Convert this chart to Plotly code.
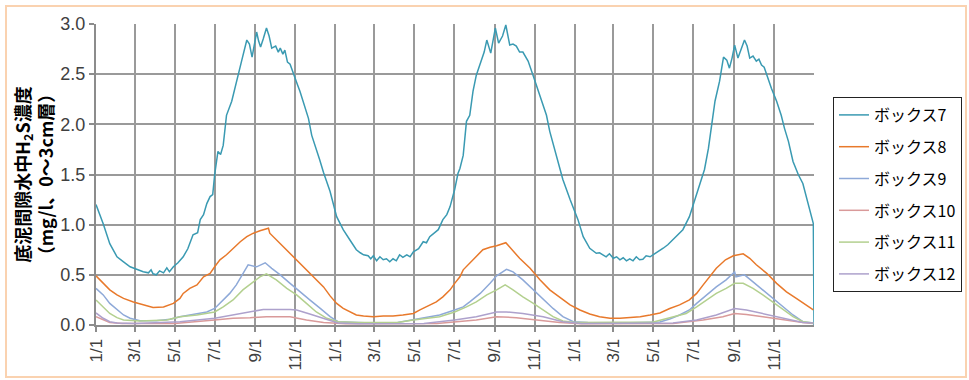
import pandas as pd
import plotly.graph_objects as go

START = pd.Timestamp("2009-01-01")

# ---- data (day offsets from the first 1/1, concentration mg/l) ----
box7_days = [0, 11, 21, 32, 42, 52, 62, 72, 80, 84,
             87, 92, 97, 103, 108, 112, 118, 125, 133, 140,
             148, 155, 159, 164, 169, 174, 178, 181, 186, 190,
             194, 199, 207, 215, 222, 230, 234, 238, 241, 245,
             248, 251, 255, 260, 264, 268, 274, 278, 281, 285,
             288, 292, 296, 303, 307, 311, 315, 319, 324, 329,
             336, 341, 347, 357, 367, 377, 387, 397, 403, 408,
             415, 419, 423, 428, 433, 438, 443, 448, 453, 458,
             463, 468, 474, 479, 484, 492, 499, 504, 509, 514,
             522, 529, 535, 540, 547, 552, 555, 560, 565, 570,
             575, 580, 588, 592, 596, 602, 609, 614, 620, 625,
             631, 636, 641, 646, 651, 655, 659, 667, 674, 682,
             687, 692, 700, 707, 712, 723, 735, 743, 753, 763,
             768, 773, 778, 783, 789, 794, 799, 804, 809, 814,
             819, 824, 829, 834, 839, 845, 850, 858, 865, 872,
             880, 888, 895, 905, 913, 921, 928, 934, 939, 944,
             951, 957, 962, 966, 970, 974, 979, 984, 989, 993,
             997, 1002, 1007, 1011, 1015, 1019, 1023, 1030, 1038, 1045,
             1050, 1056, 1063, 1071, 1078, 1086, 1094, 1095]
box7_vals = [1.20, 1.01, 0.81, 0.68, 0.63, 0.58, 0.555, 0.53, 0.52, 0.55,
             0.51, 0.50, 0.54, 0.52, 0.57, 0.53, 0.58, 0.62, 0.68, 0.76,
             0.90, 0.92, 1.05, 1.10, 1.21, 1.28, 1.30, 1.50, 1.73, 1.70,
             1.79, 2.09, 2.23, 2.46, 2.63, 2.84, 2.80, 2.67, 2.78, 2.92,
             2.83, 2.77, 2.85, 2.96, 2.88, 2.76, 2.78, 2.72, 2.76, 2.70,
             2.74, 2.62, 2.60, 2.46, 2.40, 2.33, 2.25, 2.16, 2.06, 1.89,
             1.76, 1.65, 1.52, 1.33, 1.08, 0.95, 0.85, 0.75, 0.72, 0.70,
             0.69, 0.66, 0.69, 0.64, 0.68, 0.65, 0.66, 0.63, 0.66, 0.64,
             0.70, 0.675, 0.70, 0.68, 0.73, 0.76, 0.83, 0.82, 0.88, 0.91,
             0.95, 1.05, 1.10, 1.18, 1.35, 1.51, 1.56, 1.69, 2.03, 2.09,
             2.33, 2.49, 2.66, 2.72, 2.84, 2.71, 2.96, 2.81, 2.88, 2.99,
             2.79, 2.80, 2.78, 2.72, 2.72, 2.68, 2.63, 2.48, 2.34, 2.19,
             2.09, 1.93, 1.73, 1.56, 1.45, 1.25, 1.05, 0.88, 0.765, 0.715,
             0.72, 0.70, 0.68, 0.71, 0.665, 0.68, 0.65, 0.67, 0.64, 0.66,
             0.64, 0.68, 0.65, 0.655, 0.69, 0.68, 0.70, 0.73, 0.765, 0.80,
             0.85, 0.90, 0.95, 1.08, 1.25, 1.41, 1.55, 1.76, 1.99, 2.23,
             2.43, 2.67, 2.64, 2.56, 2.66, 2.79, 2.66, 2.75, 2.84, 2.78,
             2.66, 2.68, 2.63, 2.65, 2.59, 2.57, 2.49, 2.36, 2.23, 2.09,
             1.96, 1.83, 1.63, 1.50, 1.41, 1.21, 1.01, 0.0]

box8_days = [0, 11, 21, 32, 42, 57, 72, 87, 103, 118,
             128, 133, 143, 154, 164, 174, 181, 189, 199, 209,
             220, 230, 240, 250, 263, 265, 275, 286, 296, 306,
             316, 326, 336, 347, 357, 367, 377, 387, 397, 408,
             423, 438, 453, 468, 484, 494, 509, 519, 529, 540,
             547, 555, 560, 570, 580, 590, 601, 611, 625, 634,
             646, 662, 677, 692, 707, 723, 738, 753, 768, 784,
             799, 814, 830, 845, 860, 875, 890, 905, 916, 926,
             936, 946, 960, 972, 987, 997, 1007, 1023, 1038, 1053,
             1068, 1083, 1094]
box8_vals = [0.49, 0.415, 0.35, 0.30, 0.265, 0.23, 0.20, 0.175, 0.18, 0.215,
             0.265, 0.315, 0.365, 0.40, 0.48, 0.515, 0.58, 0.65, 0.70, 0.765,
             0.83, 0.88, 0.915, 0.94, 0.965, 0.915, 0.85, 0.78, 0.715, 0.65,
             0.58, 0.515, 0.45, 0.38, 0.29, 0.215, 0.165, 0.13, 0.10, 0.09,
             0.083, 0.09, 0.09, 0.10, 0.115, 0.15, 0.20, 0.23, 0.28, 0.35,
             0.415, 0.48, 0.55, 0.615, 0.675, 0.75, 0.775, 0.79, 0.82, 0.75,
             0.665, 0.565, 0.45, 0.35, 0.28, 0.20, 0.15, 0.11, 0.083, 0.067,
             0.067, 0.073, 0.083, 0.10, 0.12, 0.165, 0.20, 0.25, 0.315, 0.40,
             0.48, 0.565, 0.65, 0.69, 0.71, 0.665, 0.60, 0.515, 0.415, 0.33,
             0.265, 0.20, 0.15]

box9_days = [0, 11, 21, 32, 42, 52, 67, 92, 113, 128,
             154, 169, 181, 194, 204, 214, 224, 232, 245, 258,
             268, 281, 296, 311, 326, 342, 357, 369, 390, 420,
             460, 499, 524, 547, 560, 570, 586, 601, 611, 626,
             636, 651, 667, 682, 697, 712, 728, 750, 800, 860,
             875, 890, 905, 916, 931, 946, 961, 974, 976, 989,
             1002, 1017, 1032, 1048, 1063, 1078, 1094]
box9_vals = [0.365, 0.30, 0.215, 0.15, 0.10, 0.067, 0.043, 0.043, 0.057, 0.083,
             0.11, 0.13, 0.165, 0.25, 0.315, 0.40, 0.515, 0.60, 0.58, 0.62,
             0.565, 0.50, 0.415, 0.33, 0.25, 0.165, 0.083, 0.033, 0.025, 0.02,
             0.025, 0.067, 0.10, 0.15, 0.18, 0.23, 0.315, 0.415, 0.49, 0.555,
             0.53, 0.45, 0.35, 0.25, 0.165, 0.083, 0.033, 0.025, 0.02, 0.03,
             0.06, 0.10, 0.15, 0.215, 0.30, 0.38, 0.45, 0.53, 0.48, 0.50,
             0.43, 0.35, 0.265, 0.18, 0.10, 0.033, 0.02]

box10_days = [0, 11, 21, 40, 120, 181, 209, 235, 260, 296,
              321, 347, 380, 520, 547, 580, 611, 641, 672, 707,
              740, 880, 926, 956, 974, 992, 1017, 1048, 1078, 1094]
box10_vals = [0.083, 0.05, 0.025, 0.015, 0.015, 0.05, 0.067, 0.073, 0.083, 0.083,
              0.05, 0.025, 0.012, 0.015, 0.033, 0.05, 0.083, 0.073, 0.05, 0.025,
              0.012, 0.015, 0.05, 0.083, 0.115, 0.105, 0.083, 0.05, 0.025, 0.015]

box11_days = [0, 11, 21, 32, 42, 67, 108, 128, 154, 181,
              194, 209, 224, 240, 250, 260, 275, 291, 306, 321,
              336, 352, 369, 400, 460, 484, 524, 547, 565, 580,
              596, 611, 624, 636, 651, 667, 682, 697, 712, 730,
              850, 900, 916, 931, 946, 961, 974, 987, 1002, 1017,
              1032, 1048, 1063, 1078, 1094]
box11_vals = [0.25, 0.18, 0.115, 0.073, 0.05, 0.04, 0.05, 0.083, 0.10, 0.13,
              0.18, 0.25, 0.35, 0.43, 0.48, 0.51, 0.45, 0.365, 0.30, 0.215,
              0.13, 0.067, 0.033, 0.025, 0.025, 0.05, 0.083, 0.13, 0.18, 0.23,
              0.30, 0.35, 0.40, 0.35, 0.28, 0.215, 0.15, 0.083, 0.04, 0.025,
              0.03, 0.115, 0.18, 0.25, 0.315, 0.365, 0.415, 0.415, 0.365, 0.30,
              0.23, 0.15, 0.083, 0.033, 0.02]

box12_days = [0, 11, 21, 32, 60, 128, 181, 209, 235, 255,
              296, 306, 326, 347, 369, 400, 500, 547, 580, 611,
              626, 651, 682, 712, 740, 880, 916, 946, 974, 992,
              1017, 1048, 1078, 1094]
box12_vals = [0.12, 0.067, 0.033, 0.02, 0.015, 0.033, 0.067, 0.10, 0.13, 0.155,
              0.155, 0.15, 0.11, 0.067, 0.02, 0.012, 0.015, 0.05, 0.083, 0.13,
              0.13, 0.115, 0.083, 0.033, 0.015, 0.02, 0.05, 0.10, 0.165, 0.15,
              0.115, 0.067, 0.025, 0.02]

series_names = ["ボックス7", "ボックス8", "ボックス9", "ボックス10", "ボックス11", "ボックス12"]
series_colors = ["#3A9AB2", "#E8792B", "#8EA9D8", "#D99A9A", "#B3D08F", "#ADA1CC"]

tick_vals = ["2009-01-01", "2009-03-01", "2009-05-01", "2009-07-01", "2009-09-01", "2009-11-01",
             "2010-01-01", "2010-03-01", "2010-05-01", "2010-07-01", "2010-09-01", "2010-11-01",
             "2011-01-01", "2011-03-01", "2011-05-01", "2011-07-01", "2011-09-01", "2011-11-01"]
tick_text = ["1/1", "3/1", "5/1", "7/1", "9/1", "11/1"] * 3

all_days = [box7_days, box8_days, box9_days, box10_days, box11_days, box12_days]
all_vals = [box7_vals, box8_vals, box9_vals, box10_vals, box11_vals, box12_vals]

fig = go.Figure()
for i, (name, col, d, v) in enumerate(zip(series_names, series_colors, all_days, all_vals)):
    dates = START + pd.to_timedelta(d, unit="D")
    fig.add_trace(go.Scatter(
        x=dates, y=v, mode="lines", name=name,
        line=dict(color=col, width=1.5),
        legendgroup=f"g{i}",
    ))

L, R, T, B = 96, 155, 24, 55
PW, PH = 969 - L - R, 380 - T - B

fig.update_layout(
    width=969, height=380,
    margin=dict(l=L, r=R, t=T, b=B, autoexpand=False),
    paper_bgcolor="white", plot_bgcolor="white",
    font=dict(family="Arial, Liberation Sans, sans-serif", size=18, color="#404040"),
    showlegend=True,
    legend=dict(
        x=(833 - L) / PW, y=(380 - B - 97) / PH, xanchor="left", yanchor="top",
        bordercolor="#222222", borderwidth=1, bgcolor="white",
        font=dict(family="Noto Sans CJK JP, sans-serif", size=16, color="#000000"),
        tracegroupgap=8,
    ),
    xaxis=dict(
        type="date", automargin=False,
        range=["2009-01-01", "2012-01-01"],
        tickmode="array", tickvals=tick_vals, ticktext=tick_text,
        tickangle=-90,
        showgrid=True, gridcolor="#9A9A9A", gridwidth=1.5,
        showline=True, linecolor="#8C8C8C", linewidth=2,
        ticks="outside", ticklen=5, tickcolor="#8C8C8C", tickwidth=1.5,
        tickfont=dict(family="Arial, Liberation Sans, sans-serif", size=17, color="#404040"),
        zeroline=False,
    ),
    yaxis=dict(
        automargin=False,
        range=[0, 3.0], tick0=0, dtick=0.5, tickformat=".1f",
        showgrid=True, gridcolor="#9A9A9A", gridwidth=1.5,
        showline=True, linecolor="#8C8C8C", linewidth=2,
        ticks="outside", ticklen=5, tickcolor="#8C8C8C", tickwidth=1.5,
        tickfont=dict(family="Arial, Liberation Sans, sans-serif", size=18, color="#404040"),
        zeroline=False,
        title=dict(
            text="底泥間隙水中H<sub>2</sub>S濃度<br>（mg/l、0～3cm層）",
            font=dict(family="Noto Sans CJK JP, sans-serif", size=18, color="#000000", weight="bold"),
            standoff=2,
        ),
    ),
    shapes=[dict(
        type="rect", xref="paper", yref="paper",
        x0=(6 - L) / PW, x1=(966 - L) / PW,
        y0=(380 - B - 377) / PH, y1=(380 - B - 6) / PH,
        line=dict(color="#FAD2B0", width=2), fillcolor="rgba(0,0,0,0)", layer="below",
    )],
)

fig.write_html("out.html")
